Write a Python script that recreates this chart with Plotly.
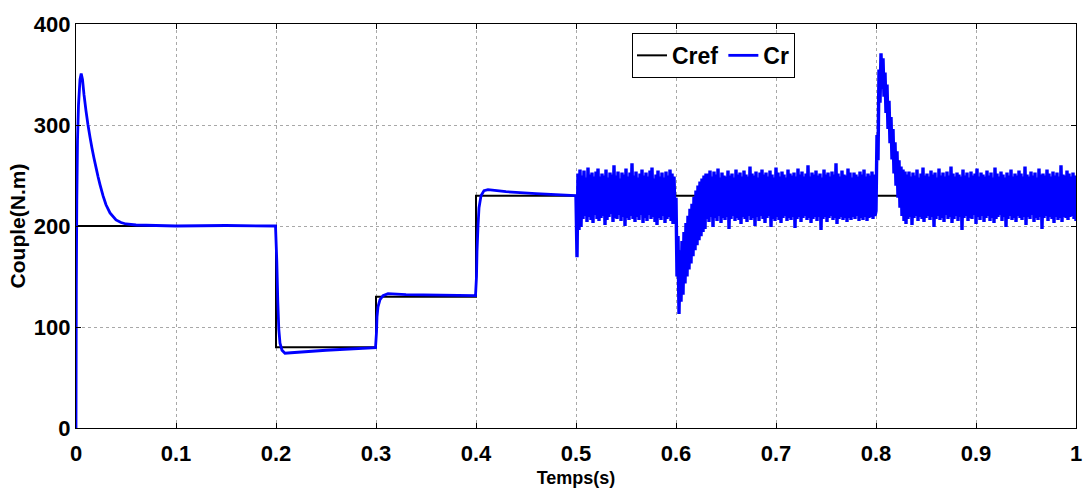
import numpy as np
import plotly.graph_objects as go

# ---------------- data ----------------
# reference torque (step changes)
cref_t = [0.0, 0.2, 0.3, 0.4, 1.0]
cref_v = [200, 80, 130, 230, 230]

# measured torque, smooth part 0 - 0.5 s
cr_t_smooth = [0.0, 0.0003, 0.0008, 0.0015, 0.0025, 0.004, 0.0052, 0.0065, 0.008, 0.010,
               0.012, 0.014, 0.016, 0.018, 0.020, 0.022, 0.024, 0.027, 0.030, 0.034,
               0.040, 0.045, 0.050, 0.060, 0.080, 0.100, 0.150, 0.1995, 0.2008, 0.2018,
               0.2028, 0.204, 0.206, 0.209, 0.215, 0.250, 0.2995, 0.3005, 0.301, 0.302,
               0.304, 0.307, 0.312, 0.330, 0.3995, 0.4005, 0.401, 0.402, 0.403, 0.405,
               0.408, 0.412, 0.430, 0.460, 0.4995]
cr_v_smooth = [0, 140, 225, 285, 320, 345, 351, 345, 330, 314,
               300, 288, 277, 267, 258, 249, 241, 230, 221, 213,
               206, 203.5, 202, 201, 200.5, 200, 200.5, 200, 165, 125,
               98, 84, 77, 74, 74.5, 77, 79.5, 95, 110, 120,
               127, 131, 133, 132, 131, 150, 175, 200, 218, 230,
               235, 236, 234, 232, 230]

# noisy part, one sample per millisecond
noise_step = 0.001
seg50_start = 0.500
seg50 = [230, 169, 252, 196, 256, 199, 250, 207, 255, 210,
         248, 204, 258, 209, 251, 206, 253, 203, 249, 211,
         254, 207, 257, 205, 249, 208, 252, 210, 250, 201,
         256, 206, 248, 209, 253, 212, 251, 204, 260, 208,
         250, 207, 254, 211, 247, 205, 253, 209, 251, 200,
         257, 208, 249, 206, 253, 210, 262, 207, 250, 204,
         254, 209, 248, 206, 252, 211, 256, 203, 250, 208,
         253, 205, 249, 211, 255, 207, 258, 209, 247, 204,
         251, 201, 255, 208, 249, 206, 253, 210, 248, 203,
         254, 207, 250, 209, 256, 205, 252, 202, 249, 208]
seg60_start = 0.600
seg60 = [228, 150, 190, 113, 176, 125, 185, 132, 194, 143,
         203, 150, 210, 157, 217, 163, 222, 170, 229, 176,
         235, 181, 240, 186, 244, 190, 247, 194, 250, 197,
         252]
seg63_start = 0.631
seg63 = [207, 252, 204, 255, 209, 249, 199, 254, 208, 251,
         205, 257, 210, 248, 203, 253, 208, 250, 206, 249,
         209, 255, 197, 250, 207, 252, 210, 248, 205, 256,
         208, 251, 206, 253, 202, 249, 209, 255, 207, 251,
         204, 249, 210, 259, 206, 252, 208, 250, 200, 254,
         209, 248, 205, 253, 210, 256, 207, 251, 203, 253,
         208, 249, 210, 255, 199, 251, 207, 248, 205, 258,
         209, 253, 206, 249, 203, 254, 208, 251, 210, 248,
         205, 256, 208, 252, 206, 250, 209, 253, 198, 249,
         207, 257, 209, 251, 204, 254, 208, 249, 210, 252,
         206, 260, 208, 249, 203, 253, 207, 251, 209, 255,
         205, 250, 209, 252, 196, 248, 207, 256, 209, 251,
         204, 253, 208, 249, 210, 254, 206, 251, 208, 262,
         202, 252, 207, 249, 209, 255, 206, 251, 208, 250,
         204, 257, 208, 253, 206, 248, 209, 253, 207, 251,
         210, 249, 205, 254, 208, 251, 206, 256, 209, 249,
         205, 252, 208, 250, 209, 254, 207, 251, 210]
seg80_start = 0.800
seg80 = [215, 290, 265, 355, 322, 371, 336, 366, 328, 352,
         312, 340, 296, 324, 282, 308, 266, 296, 252, 283,
         240, 274, 228, 265, 218, 259, 210, 256, 205, 254,
         202]
seg83_start = 0.831
seg83 = [251, 207, 254, 209, 249, 201, 253, 208, 250, 210,
         256, 205, 248, 209, 252, 207, 258, 204, 250, 208,
         252, 210, 249, 206, 255, 209, 251, 199, 253, 207,
         248, 210, 257, 206, 250, 208, 253, 204, 249, 211,
         254, 207, 250, 209, 259, 203, 252, 207, 249, 210,
         253, 205, 251, 209, 249, 196, 256, 208, 250, 210,
         253, 205, 248, 208, 254, 207, 250, 211, 252, 202,
         257, 209, 249, 206, 253, 210, 251, 204, 249, 208,
         255, 210, 250, 205, 253, 208, 248, 203, 258, 207,
         252, 209, 249, 211, 254, 205, 251, 209, 248, 199,
         253, 207, 250, 210, 256, 206, 249, 208, 252, 204,
         250, 210, 255, 208, 252, 206, 249, 209, 259, 201,
         251, 209, 249, 207, 254, 211, 250, 204, 253, 208,
         248, 206, 257, 209, 251, 197, 252, 208, 250, 210,
         256, 205, 252, 209, 249, 207, 254, 203, 250, 209,
         253, 206, 249, 208, 260, 204, 251, 209, 250, 208,
         255, 206, 252, 209, 249, 210, 253, 207, 250, 205]

x_ticks = [0, 0.1, 0.2, 0.3, 0.4, 0.5, 0.6, 0.7, 0.8, 0.9, 1]
x_tick_labels = ["0", "0.1", "0.2", "0.3", "0.4", "0.5", "0.6", "0.7", "0.8", "0.9", "1"]
y_ticks = [0, 100, 200, 300, 400]
y_tick_labels = ["0", "100", "200", "300", "400"]

# ---------------- assemble ----------------
noise_t = []
noise_v = []
for start, vals in [(seg50_start, seg50), (seg60_start, seg60), (seg63_start, seg63),
                    (seg80_start, seg80), (seg83_start, seg83)]:
    noise_t += list(start + noise_step * np.arange(len(vals)))
    noise_v += vals

fig = go.Figure()
fig.add_trace(go.Scatter(x=cref_t, y=cref_v, mode="lines", name="Cref",
                         line=dict(color="black", width=2, shape="hv")))
fig.add_trace(go.Scatter(x=list(cr_t_smooth) + [noise_t[0]], y=list(cr_v_smooth) + [noise_v[0]],
                         mode="lines", name="Cr", legendgroup="cr",
                         line=dict(color="#0000ff", width=2.8, simplify=False)))
fig.add_trace(go.Scatter(x=noise_t, y=noise_v, mode="lines", name="Cr", legendgroup="cr",
                         showlegend=False,
                         line=dict(color="#0000ff", width=3.4, simplify=False)))

tickfont = dict(family="Arial", size=22, color="black", weight="bold")
fig.update_layout(
    width=1084, height=488,
    margin=dict(l=76, r=8, t=24, b=60),
    paper_bgcolor="white", plot_bgcolor="white",
    legend=dict(orientation="h", x=0.556, y=0.978, xanchor="left", yanchor="top",
                bgcolor="white", bordercolor="black", borderwidth=1,
                font=dict(family="Arial", size=23, color="black", weight="bold"),
                tracegroupgap=0, itemwidth=30),
)
fig.update_xaxes(range=[0, 1], tickvals=x_ticks, ticktext=x_tick_labels,
                 showline=True, linecolor="black", linewidth=1.2, mirror="ticks",
                 ticks="inside", ticklen=5, tickcolor="black", automargin=False,
                 showgrid=True, gridcolor="#a8a8a8", griddash="dot", gridwidth=1,
                 zeroline=False, tickfont=tickfont, ticklabelstandoff=5,
                 title=dict(text="Temps(s)", standoff=8,
                            font=dict(family="Arial", size=18, color="black", weight="bold")))
fig.update_yaxes(range=[0, 400], tickvals=y_ticks, ticktext=y_tick_labels,
                 showline=True, linecolor="black", linewidth=1.2, mirror="ticks",
                 ticks="inside", ticklen=5, tickcolor="black", automargin=False,
                 showgrid=True, gridcolor="#a8a8a8", griddash="dot", gridwidth=1,
                 zeroline=False, tickfont=tickfont,
                 title=dict(text="Couple(N.m)", standoff=2,
                            font=dict(family="Arial", size=21, color="black", weight="bold")))

fig.write_html("out.html")
